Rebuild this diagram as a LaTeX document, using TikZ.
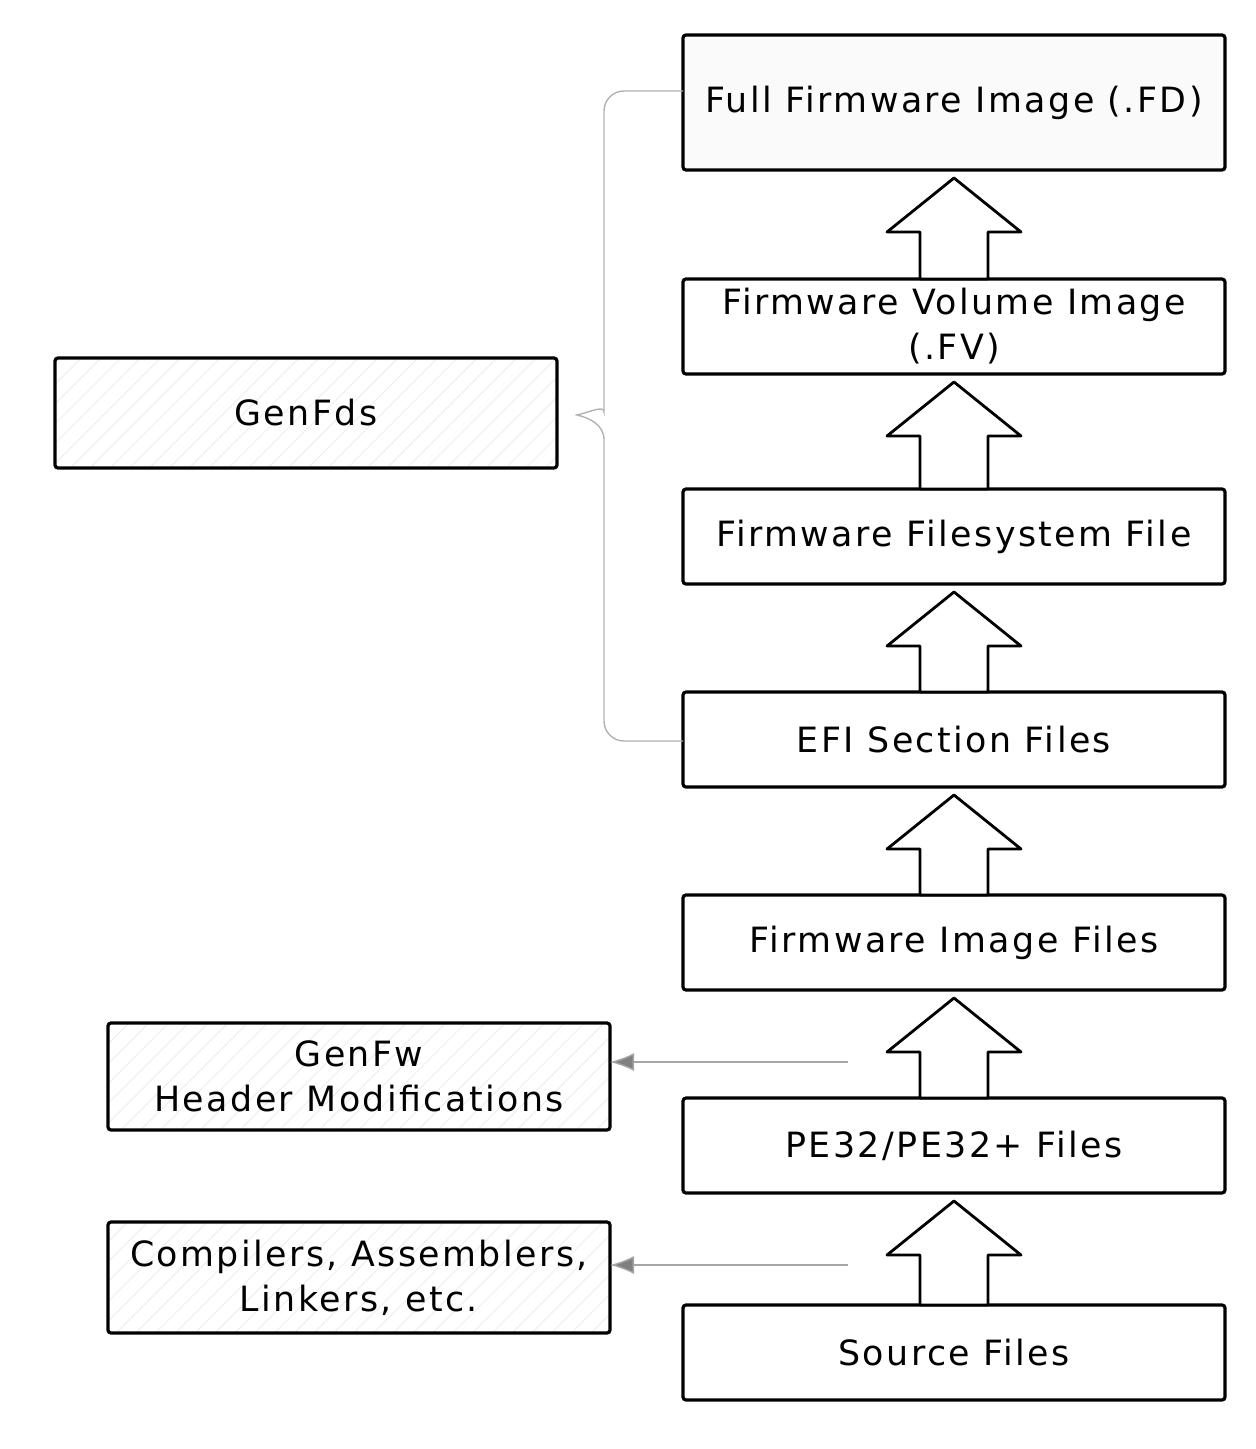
\documentclass[tikz,border=0pt]{standalone}
\usepackage{fontspec}
\setmainfont{DejaVu Sans}[LetterSpace=7]
\usepackage{tikz}
\usetikzlibrary{arrows.meta, calc, positioning, patterns.meta}
\tikzstyle{feed} = [draw=gray!70, line width=0.7pt, -{Latex[length=12pt,width=9pt,fill=gray]}]

\begin{document}
\begin{tikzpicture}[x=0.5pt, y=-0.5pt,
  stage/.style={draw, line width=1.6pt, rounded corners=1.5pt, outer sep=0pt,
    minimum width=271pt, minimum height=47.5pt, align=center,
    font=\fontsize{17.4}{22.5}\selectfont},
  tool/.style={stage, minimum width=251pt, minimum height=55pt,
    pattern={Lines[angle=45,distance=7pt,line width=0.4pt]}, pattern color=gray!16},
  fatarrow/.style={draw, line width=1.4pt, line join=round, fill=white}]
 \useasboundingbox (0,0) rectangle (1256,1449);

 % build stages, bottom of the page is the start
 \node[stage, minimum height=67.5pt, fill=gray!4] at (954,102.5) (fd) {Full Firmware Image (.FD)};
 \node[stage, below=54.5pt of fd] (fv) {Firmware Volume Image\\(.FV)};
 \node[stage, below=57.5pt of fv] (ffs) {Firmware Filesystem File};
 \node[stage, below=54pt of ffs] (sec) {EFI Section Files};
 \node[stage, below=54pt of sec] (img) {Firmware Image Files};
 \node[stage, below=54pt of img] (pe) {PE32/PE32+ Files};
 \node[stage, below=56pt of pe] (src) {Source Files};

 % tools on the left
 \node[tool] at (306,413) (gfds) {GenFds};
 \node[tool, minimum height=53.5pt] at (359,1076.5) (gfw) {GenFw\\Header Modifications};
 \node[tool, minimum height=55.5pt] at (359,1277.5) (cc) {Compilers, Assemblers,\\Linkers, etc.};

 % hollow arrows between the stages
 \foreach \a/\b in {src/pe, pe/img, img/sec, sec/ffs, ffs/fv, fv/fd}
  \draw[fatarrow] ($(\b.south)+(0,8)$) -- ++(67,54) -- ++(-33,0)
   -- ($(\a.north)+(34,0)$) -- ($(\a.north)+(-34,0)$)
   -- ($(\b.south)+(-34,62)$) -- ++(-33,0) -- cycle;

 % which tool makes which step
 \coordinate (g1) at (848,1062);
 \coordinate (g2) at (848,1265);
 \draw[feed] (g1) -- (g1 -| gfw.east);
 \draw[feed] (g2) -- (g2 -| cc.east);

 \coordinate (bt) at ($(gfds.east)+(20,2)$);
 \draw[gray!60, line width=0.7pt]
  ($(fd.west)+(0,-11.5)$) [rounded corners=10pt] -- ++(-79,0) -- ($(bt)+(27,-23)$) [sharp corners]
  .. controls ($(bt)+(27,-10)$) and ($(bt)+(13,-3)$) .. (bt)
  .. controls ($(bt)+(13,3)$) and ($(bt)+(27,10)$) .. ($(bt)+(27,25)$)
  [rounded corners=10pt] -- ($(sec.west)+(-79,1.5)$) -- ($(sec.west)+(0,1.5)$);
\end{tikzpicture}
\end{document}
